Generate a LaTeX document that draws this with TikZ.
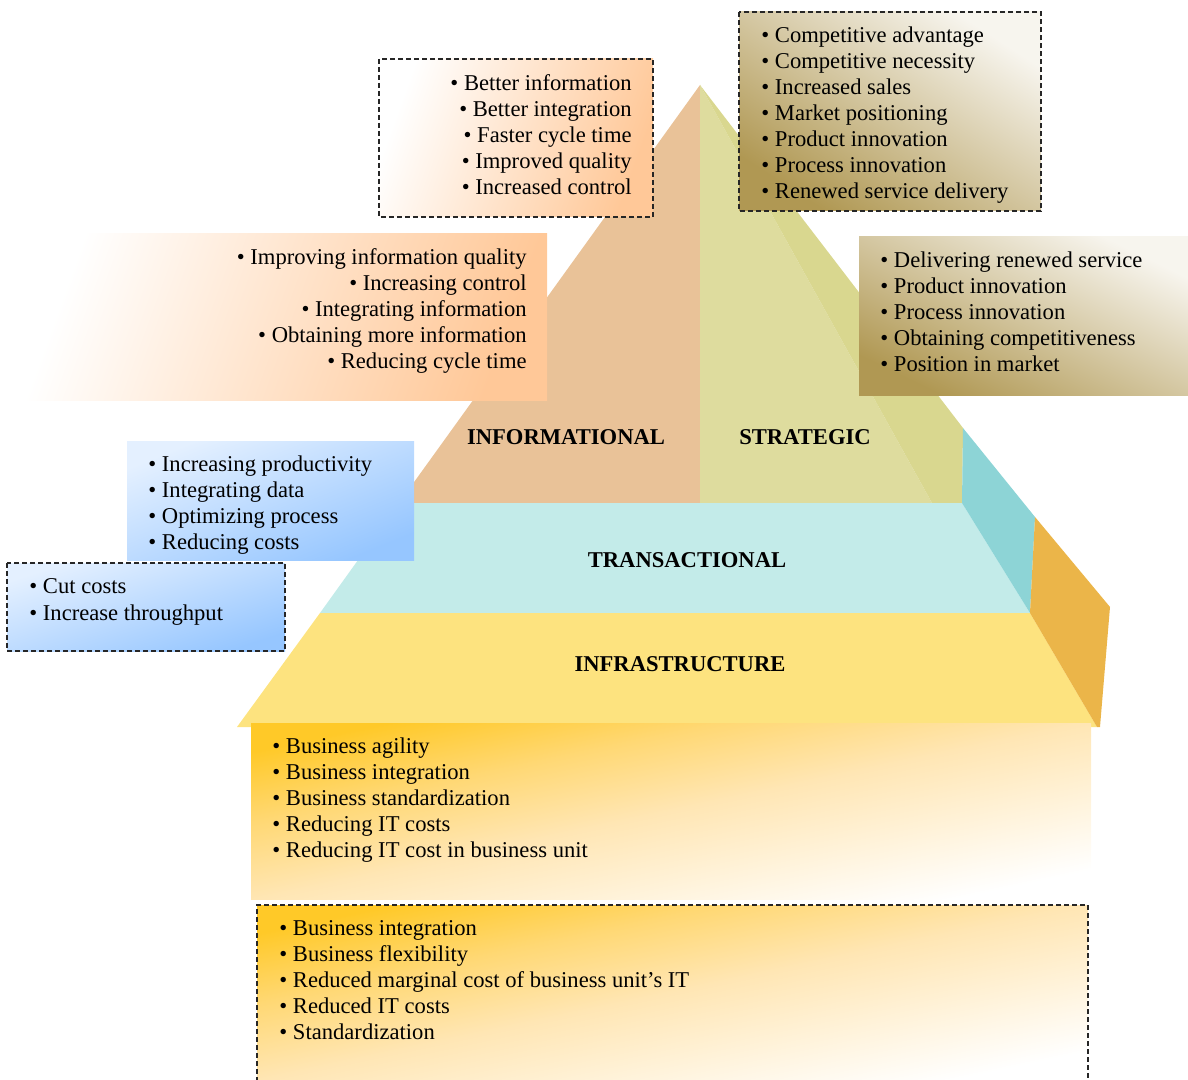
\documentclass[tikz,border=0pt]{standalone}
\usepackage{fontspec}
\setmainfont{Liberation Serif}
\usepackage{tikz}

\definecolor{infoface}{HTML}{E9C298}
\definecolor{stratface}{HTML}{DEDC9E}
\definecolor{stratside}{HTML}{D9D78F}
\definecolor{transface}{HTML}{C3EBE9}
\definecolor{transside}{HTML}{8DD4D6}
\definecolor{infraface}{HTML}{FDE37F}
\definecolor{infraside}{HTML}{EBB549}
\definecolor{peach}{HTML}{FFC898}
\definecolor{olive}{HTML}{B09853}
\definecolor{paleblue}{HTML}{E4F0FF}
\definecolor{skyblue}{HTML}{96C6FF}
\definecolor{gold}{HTML}{FFC928}
\definecolor{lightgold}{HTML}{FFD874}
\definecolor{cream}{HTML}{FFE6B4}

\pgfdeclareverticalshading{infrafill}{100bp}{color(0bp)=(white); color(25bp)=(white); color(50bp)=(cream); color(63bp)=(lightgold); color(75bp)=(gold); color(100bp)=(gold)}

\begin{document}
\begin{tikzpicture}[x=0.5pt, y=-0.5pt,
list/.style = {align=left, inner sep=0pt, anchor=north west, font=\fontsize{11.3}{13}\selectfont},
rlist/.style = {list, align=right, anchor=north east},
level/.style = {inner sep=0pt, font=\fontsize{11.3}{13}\selectfont\bfseries},
frame/.style = {draw=black!85, line width=0.6pt, dash pattern=on 2.5pt off 1.5pt},
infobox/.style = {left color=white, right color=peach, shading angle=70},
stratbox/.style = {top color=white!90!olive, bottom color=olive, shading angle=#1},
transbox/.style = {top color=paleblue, bottom color=skyblue, shading angle=#1},
infrabox/.style = {shading=infrafill, shading angle=12}
]
\useasboundingbox (0,0) rectangle (1188,1080);

% pyramid
\fill [infoface] (700,85) -- (399,503) -- (700,503) -- cycle;
\fill [stratface] (700,85) -- (700,503) -- (932,503) -- cycle;
\fill [stratside] (700,85) -- (963,428) -- (962,503) -- (932,503) -- cycle;
\fill [transface] (399,503) -- (962,503) -- (1030,613) -- (320,613) -- cycle;
\fill [transside] (963,428) -- (1035,517) -- (1030,613) -- (962,503) -- cycle;
\fill [infraface] (320,613) -- (1030,613) -- (1097,727) -- (237,727) -- cycle;
\fill [infraside] (1035,517) -- (1110,607) -- (1100,727) -- (1097,727) -- (1030,613) -- cycle;

\node [level] (inform) at (566,437) {INFORMATIONAL};
\node [level] (strat) at (805,437) {STRATEGIC};
\node [level] (trans) at (687,560) {TRANSACTIONAL};
\node [level] (infra) at (680,664) {INFRASTRUCTURE};

% informational
\path [infobox, frame] (379,59) rectangle (653,217);
\node [rlist] (infogain) at (632,74.5) {\textbullet{} Better information\\ \textbullet{} Better integration\\ \textbullet{} Faster cycle time\\ \textbullet{} Improved quality\\ \textbullet{} Increased control};
\path [infobox] (19,234) rectangle (547,401);
\node [rlist] (infoaim) at (527,248.5) {\textbullet{} Improving information quality\\ \textbullet{} Increasing control\\ \textbullet{} Integrating information\\ \textbullet{} Obtaining more information\\ \textbullet{} Reducing cycle time};

% strategic
\path [stratbox=-33, frame] (739,12) rectangle (1041,211);
\node [list] (stratgain) at (761,26.5) {\textbullet{} Competitive advantage\\ \textbullet{} Competitive necessity\\ \textbullet{} Increased sales\\ \textbullet{} Market positioning\\ \textbullet{} Product innovation\\ \textbullet{} Process innovation\\ \textbullet{} Renewed service delivery};
\path [stratbox=-26] (859,237) rectangle (1188,396);
\node [list] (strataim) at (880,251.5) {\textbullet{} Delivering renewed service\\ \textbullet{} Product innovation\\ \textbullet{} Process innovation\\ \textbullet{} Obtaining competitiveness\\ \textbullet{} Position in market};

% transactional
\path [transbox=22] (127,441) rectangle (414,560);
\node [list] (transaim) at (148,455.5) {\textbullet{} Increasing productivity\\ \textbullet{} Integrating data\\ \textbullet{} Optimizing process\\ \textbullet{} Reducing costs};
\path [transbox=18, frame] (7,563) rectangle (285,651);
\node [list, font=\fontsize{11.3}{13.5}\selectfont] (transgain) at (29,578.5) {\textbullet{} Cut costs\\ \textbullet{} Increase throughput};

% infrastructure
\path [infrabox] (251,723) rectangle (1091,899);
\node [list] (infraaim) at (272,737.5) {\textbullet{} Business agility\\ \textbullet{} Business integration\\ \textbullet{} Business standardization\\ \textbullet{} Reducing IT costs\\ \textbullet{} Reducing IT cost in business unit};
\path [infrabox] (257,905) rectangle (1088,1080);
\draw [frame] (257,1082) -- (257,905) -- (1088,905) -- (1088,1082);
\node [list] (infragain) at (279,920.5) {\textbullet{} Business integration\\ \textbullet{} Business flexibility\\ \textbullet{} Reduced marginal cost of business unit’s IT\\ \textbullet{} Reduced IT costs\\ \textbullet{} Standardization};

\end{tikzpicture}
\end{document}
